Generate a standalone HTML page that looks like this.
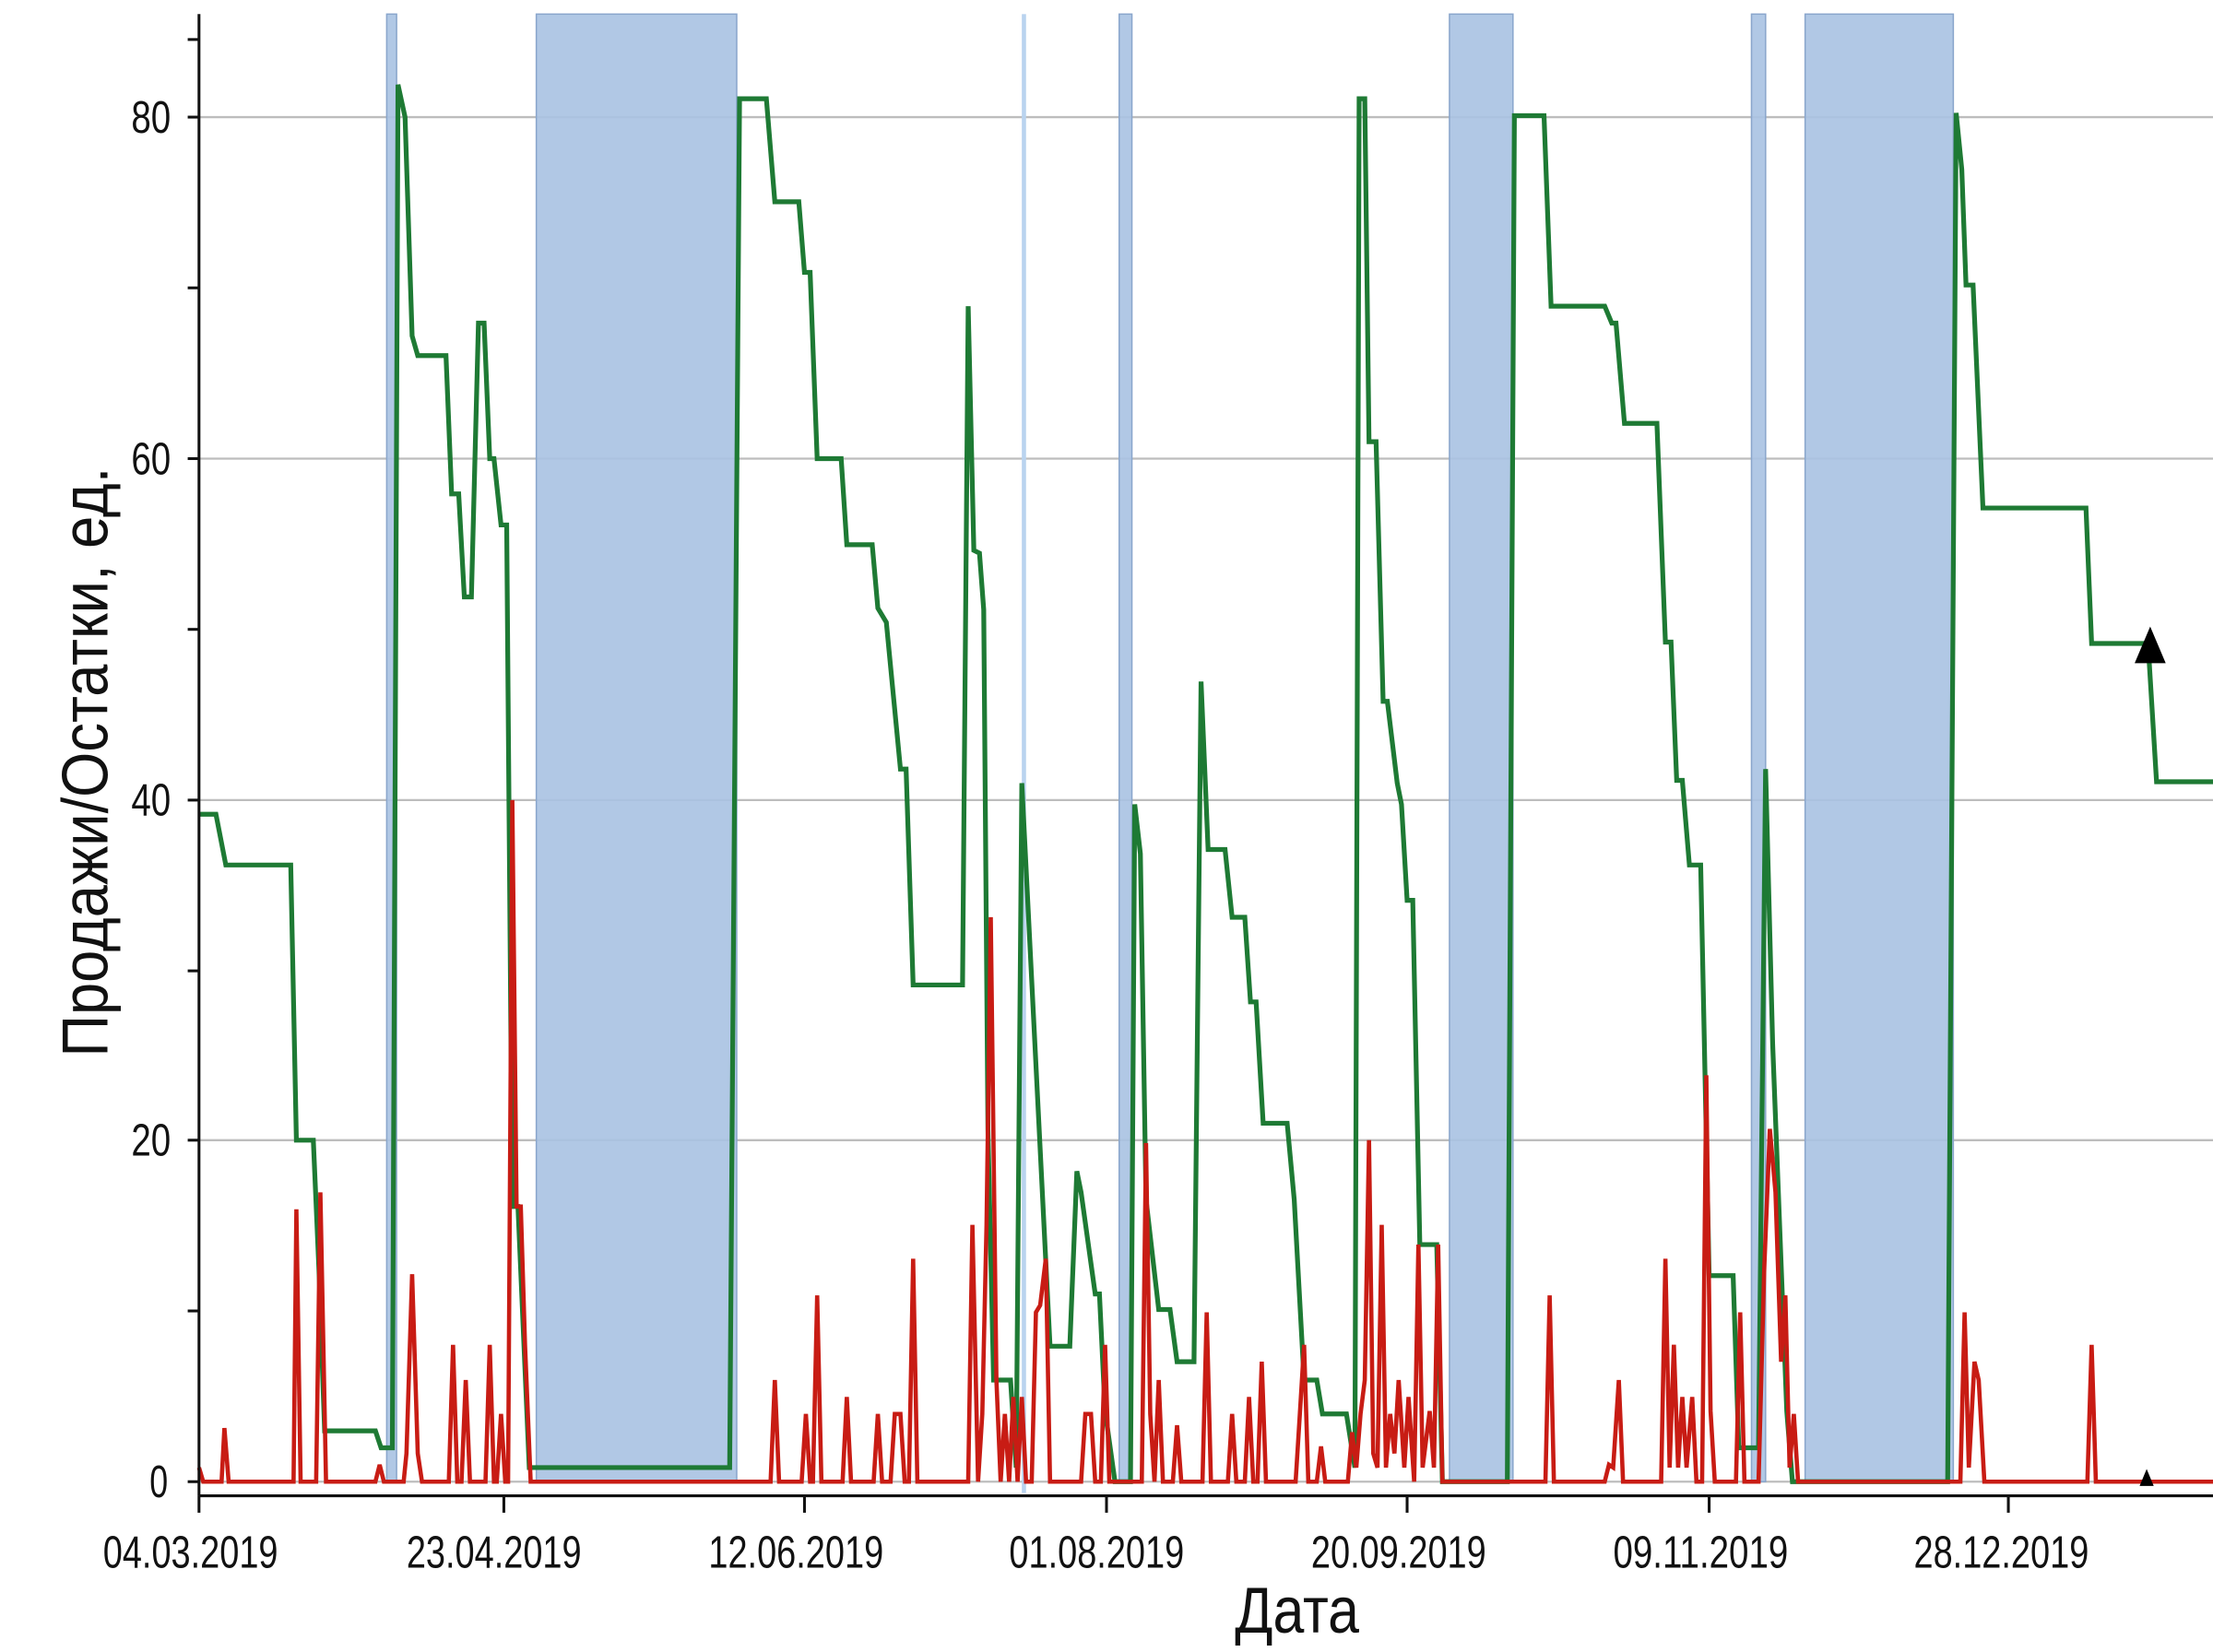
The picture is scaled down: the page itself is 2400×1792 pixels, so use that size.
<!DOCTYPE html>
<html><head><meta charset="utf-8"><style>
html,body{margin:0;padding:0;background:#fff;}
svg{display:block;}
text{font-family:"Liberation Sans Narrow","Liberation Sans",sans-serif;fill:#111;}
</style></head><body>
<svg width="2400" height="1792" viewBox="0 0 1568 1170.7" preserveAspectRatio="none" xmlns="http://www.w3.org/2000/svg">
<rect width="1568" height="1171" fill="#fff"/>
<g stroke="#bdbdbd" stroke-width="1.5">
<line x1="141" y1="83" x2="1568" y2="83"/>
<line x1="141" y1="325" x2="1568" y2="325"/>
<line x1="141" y1="567" x2="1568" y2="567"/>
<line x1="141" y1="808" x2="1568" y2="808"/>
<line x1="141" y1="1050" x2="1568" y2="1050"/>
</g>
<g fill="#a9c2e2" fill-opacity="0.9" stroke="#8aa6cc" stroke-width="1">
<rect x="274" y="10" width="7" height="1040"/>
<rect x="380" y="10" width="142" height="1040"/>
<rect x="793" y="10" width="9" height="1040"/>
<rect x="1027" y="10" width="45" height="1040"/>
<rect x="1241" y="10" width="10" height="1040"/>
<rect x="1279" y="10" width="105" height="1040"/>
</g>
<rect x="724" y="10" width="3" height="1048" fill="#b9d3ef"/>
<polyline fill="none" stroke="#1e7a34" stroke-width="3.4" stroke-linejoin="miter" points="141,577 153,577 160,613 206,613 210,808 222,808 226,900 230,1014 266,1014 270,1026 278,1026 282,60 287,83 292,238 296,252 316,252 320,350 325,350 329,423 334,423 339,229 343,229 347,325 350,325 355,372 359,372 363,855 367,855 375,1040 517,1040 524,70 543,70 549,143 566,143 570,193 574,193 579,325 596,325 600,386 618,386 622,431 628,441 638,545 642,545 647,698 682,698 686,217 690,390 694,392 697,432 700,800 704,978 716,978 720,1040 724,555 744,954 758,954 763,830 766,845 776,917 779,917 783,1000 790,1050 801,1050 804,570 808,605 812,850 821,928 829,928 834,965 846,965 851,483 856,602 868,602 873,650 882,650 886,710 890,710 895,796 912,796 917,850 924,978 933,978 937,1002 954,1002 960,1040 963,70 967,70 970,313 975,313 980,497 983,497 990,555 993,570 997,638 1001,638 1006,882 1018,882 1022,1050 1068,1050 1073,82 1094,82 1099,217 1137,217 1142,229 1145,229 1151,300 1174,300 1180,455 1184,455 1188,553 1192,553 1197,613 1205,613 1211,904 1228,904 1232,1026 1246,1026 1251,545 1256,740 1266,1000 1270,1050 1380,1050 1386,80 1390,120 1393,202 1398,202 1405,360 1478,360 1482,456 1522,456 1528,554 1568,554"/>
<polyline fill="none" stroke="#c81c14" stroke-width="3" stroke-linejoin="miter" points="141,1040 144,1050 157,1050 159,1012 162,1050 208,1050 210,857 213,1050 224,1050 227,845 231,1050 266,1050 269,1038 272,1050 286,1050 288,1030 292,903 296,1030 299,1050 318,1050 321,953 324,1050 327,1050 330,978 333,1050 344,1050 347,953 350,1050 352,1050 355,1002 358,1050 360,1050 363,567 366,855 369,855 372,953 376,1050 546,1050 549,978 552,1050 568,1050 571,1002 574,1050 576,1050 579,918 582,1050 597,1050 600,990 603,1050 619,1050 622,1002 625,1050 631,1050 634,1002 638,1002 641,1050 644,1050 647,892 650,1050 686,1050 689,868 693,1050 696,1002 699,868 702,650 706,978 709,1050 712,1002 715,1050 718,990 721,1050 724,990 727,1050 731,1050 734,930 737,925 741,892 744,1050 766,1050 769,1002 773,1002 776,1050 780,1050 783,953 786,1050 809,1050 812,810 815,1002 818,1050 821,978 824,1050 831,1050 834,1010 837,1050 852,1050 855,930 858,1050 870,1050 873,1002 876,1050 882,1050 885,990 888,1050 891,1050 894,965 897,1050 918,1050 921,1002 924,953 927,1050 933,1050 936,1025 939,1050 955,1050 958,1015 961,1040 964,1002 967,978 970,808 973,1030 976,1040 979,868 982,1040 985,1002 988,1030 991,978 995,1040 998,990 1002,1050 1005,882 1008,1040 1013,1000 1016,1040 1019,882 1022,1050 1095,1050 1098,918 1101,1050 1137,1050 1140,1038 1143,1040 1147,978 1150,1050 1177,1050 1180,892 1183,1040 1186,953 1189,1040 1192,990 1195,1040 1199,990 1202,1050 1206,1050 1209,762 1212,1000 1215,1050 1230,1050 1233,930 1236,1050 1246,1050 1250,900 1254,800 1258,845 1262,965 1265,918 1268,1040 1271,1002 1274,1050 1389,1050 1392,930 1395,1040 1399,965 1402,978 1406,1050 1479,1050 1482,953 1485,1050 1568,1050"/>
<polygon points="1523.5,444 1512.5,470 1534.5,470" fill="#000"/>
<polygon points="1521,1041 1516,1053 1526,1053" fill="#000"/>
<g stroke="#111" stroke-width="2">
<line x1="141" y1="10" x2="141" y2="1060"/>
<line x1="141" y1="1060" x2="1568" y2="1060"/>
<line x1="133" y1="83" x2="141" y2="83"/><line x1="133" y1="204" x2="141" y2="204"/>
<line x1="133" y1="325" x2="141" y2="325"/><line x1="133" y1="446" x2="141" y2="446"/>
<line x1="133" y1="567" x2="141" y2="567"/><line x1="133" y1="688" x2="141" y2="688"/>
<line x1="133" y1="808" x2="141" y2="808"/><line x1="133" y1="929" x2="141" y2="929"/>
<line x1="133" y1="1050" x2="141" y2="1050"/><line x1="133" y1="28" x2="141" y2="28"/>
<line x1="141" y1="1060" x2="141" y2="1072"/><line x1="357" y1="1060" x2="357" y2="1072"/>
<line x1="570" y1="1060" x2="570" y2="1072"/><line x1="784" y1="1060" x2="784" y2="1072"/>
<line x1="997" y1="1060" x2="997" y2="1072"/><line x1="1211" y1="1060" x2="1211" y2="1072"/>
<line x1="1423" y1="1060" x2="1423" y2="1072"/>
</g>
<g font-size="32">
<text x="93" y="94" textLength="28" lengthAdjust="spacingAndGlyphs">80</text>
<text x="93" y="336" textLength="28" lengthAdjust="spacingAndGlyphs">60</text>
<text x="93" y="578" textLength="28" lengthAdjust="spacingAndGlyphs">40</text>
<text x="93" y="819" textLength="28" lengthAdjust="spacingAndGlyphs">20</text>
<text x="106" y="1061" textLength="13" lengthAdjust="spacingAndGlyphs">0</text>
</g>
<g font-size="32">
<text x="73" y="1111" textLength="124" lengthAdjust="spacingAndGlyphs">04.03.2019</text>
<text x="288" y="1111" textLength="124" lengthAdjust="spacingAndGlyphs">23.04.2019</text>
<text x="502" y="1111" textLength="124" lengthAdjust="spacingAndGlyphs">12.06.2019</text>
<text x="715" y="1111" textLength="124" lengthAdjust="spacingAndGlyphs">01.08.2019</text>
<text x="929" y="1111" textLength="124" lengthAdjust="spacingAndGlyphs">20.09.2019</text>
<text x="1143" y="1111" textLength="124" lengthAdjust="spacingAndGlyphs">09.11.2019</text>
<text x="1356" y="1111" textLength="124" lengthAdjust="spacingAndGlyphs">28.12.2019</text>
</g>
<text x="875" y="1157" font-size="46" textLength="88" lengthAdjust="spacingAndGlyphs">Дата</text>
<text transform="translate(76,540) rotate(-90)" font-size="46" text-anchor="middle" textLength="418" lengthAdjust="spacingAndGlyphs">Продажи/Остатки, ед.</text>
</svg>
</body></html>
